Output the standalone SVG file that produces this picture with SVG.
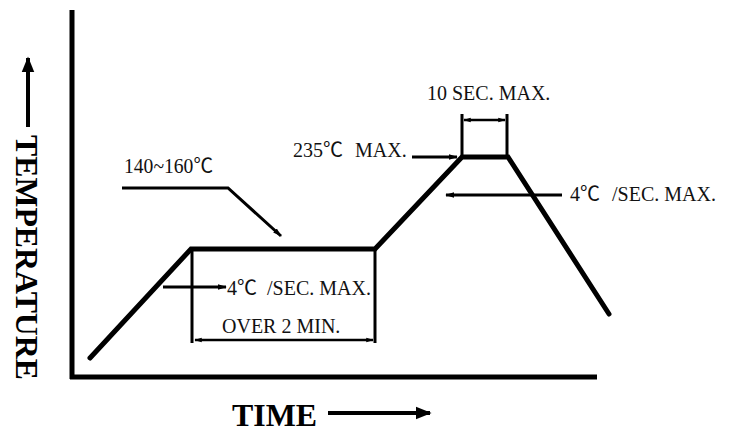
<svg xmlns="http://www.w3.org/2000/svg" width="734" height="432" viewBox="0 0 734 432">
<defs>
<style>
.curve{fill:none;stroke:#000;stroke-width:5;stroke-linejoin:miter;stroke-linecap:round}
.axis{fill:none;stroke:#000;stroke-width:5}
.lead{fill:none;stroke:#000;stroke-width:3}
.dim{fill:none;stroke:#000;stroke-width:2.5}
.lbl{font-family:"Liberation Serif","Noto Sans CJK SC",serif;font-size:20px;fill:#111}
.big{font-family:"Liberation Serif","Noto Sans CJK SC",serif;font-size:31px;font-weight:bold;fill:#000}
</style>
<marker id="ah" viewBox="0 0 10 10" refX="9" refY="5" markerWidth="4" markerHeight="4" orient="auto-start-reverse" markerUnits="strokeWidth">
<path d="M0,1 L10,5 L0,9 Z" fill="#000"/>
</marker>
<marker id="ahs" viewBox="0 0 10 10" refX="9" refY="5" markerWidth="3" markerHeight="3" orient="auto-start-reverse" markerUnits="strokeWidth">
<path d="M0,2 L10,5 L0,8 Z" fill="#000"/>
</marker>
</defs>
<rect width="734" height="432" fill="#fff"/>
<g id="axes">
<line class="axis" x1="72" y1="10" x2="72" y2="379"/>
<line class="axis" x1="70" y1="377" x2="597" y2="377"/>
<line x1="28" y1="127" x2="28" y2="58" stroke="#000" stroke-width="4" marker-end="url(#ah)"/>
<text class="big" transform="translate(16,135) rotate(90)" textLength="245" lengthAdjust="spacingAndGlyphs">TEMPERATURE</text>
<text class="big" x="232" y="426" textLength="85" lengthAdjust="spacingAndGlyphs">TIME</text>
<line x1="328" y1="413" x2="430" y2="413" stroke="#000" stroke-width="4" marker-end="url(#ah)"/>
</g>
<g id="profile">
<polyline class="curve" points="90,358 191,249 375,249 462,157 508,157 609,314"/>
</g>
<g id="connectors">
<polyline class="lead" points="122,188 228,188 281,236" marker-end="url(#ahs)"/>
<line class="lead" x1="163" y1="287" x2="226" y2="287" marker-end="url(#ahs)"/>
<line class="lead" x1="192" y1="250" x2="192" y2="343"/>
<line class="lead" x1="375" y1="250" x2="375" y2="343"/>
<line class="dim" x1="195" y1="340" x2="373" y2="340" marker-start="url(#ahs)" marker-end="url(#ahs)"/>
<line class="lead" x1="412" y1="157" x2="457" y2="157" marker-end="url(#ahs)"/>
<line class="lead" x1="462" y1="114" x2="462" y2="157"/>
<line class="lead" x1="507" y1="114" x2="507" y2="157"/>
<line class="dim" x1="464" y1="120" x2="505" y2="120" marker-start="url(#ahs)" marker-end="url(#ahs)"/>
<line class="lead" x1="562" y1="195" x2="446" y2="195" marker-end="url(#ahs)"/>
</g>
<g id="labels">
<text class="lbl" x="124" y="173" textLength="89" lengthAdjust="spacingAndGlyphs">140~160℃</text>
<text class="lbl" y="295"><tspan x="227">4℃</tspan><tspan x="267">/SEC. MAX.</tspan></text>
<text class="lbl" x="222" y="333">OVER 2 MIN.</text>
<text class="lbl" y="157"><tspan x="293">235℃</tspan><tspan x="355">MAX.</tspan></text>
<text class="lbl" x="427" y="100">10 SEC. MAX.</text>
<text class="lbl" y="201"><tspan x="570">4℃</tspan><tspan x="612">/SEC. MAX.</tspan></text>
</g>
</svg>
